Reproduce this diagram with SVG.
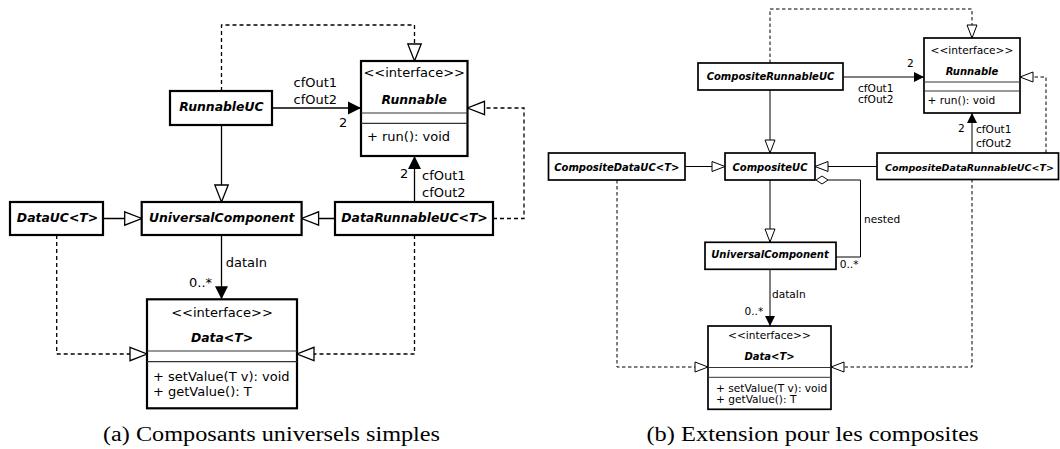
<svg xmlns="http://www.w3.org/2000/svg" width="1060" height="449" viewBox="0 0 1060 449">
<style>
.bg{fill:#fff}
.boxL{fill:#fff;stroke:#000;stroke-width:2.2}
.boxR{fill:#fff;stroke:#000;stroke-width:1.7}
.sepL{stroke:#333;stroke-width:1.2;fill:none}
.sepR{stroke:#333;stroke-width:1;fill:none}
text{font-family:"DejaVu Sans","Liberation Sans",sans-serif;fill:#000}
.tL{font-size:13px}
.nL{font-size:12.4px;font-weight:bold;font-style:italic}
.tR{font-size:10.6px}
.nR{font-size:10px;font-weight:bold;font-style:italic}
.m{text-anchor:middle}
.cap{font-family:"Liberation Serif","Times New Roman",serif;font-size:20px}
.cL{fill:none;stroke:#000;stroke-width:1.3}
.cR{fill:none;stroke:#000;stroke-width:1}
.dL{stroke-dasharray:4,3}
.dR{stroke-dasharray:3.5,2.5}
</style>
<defs>
<marker id="hL" markerUnits="userSpaceOnUse" orient="auto" refX="17" refY="0" markerWidth="20" markerHeight="16" overflow="visible"><path d="M0,-6.7 L17,0 L0,6.7 Z" fill="#fff" stroke="#000" stroke-width="1.3"/></marker>
<marker id="fL" markerUnits="userSpaceOnUse" orient="auto" refX="13" refY="0" markerWidth="15" markerHeight="15" overflow="visible"><path d="M0,-6.5 L13,0 L0,6.5 Z" fill="#000"/></marker>
<marker id="hR" markerUnits="userSpaceOnUse" orient="auto" refX="13" refY="0" markerWidth="15" markerHeight="12" overflow="visible"><path d="M0,-5 L13,0 L0,5 Z" fill="#fff" stroke="#000" stroke-width="1"/></marker>
<marker id="fR" markerUnits="userSpaceOnUse" orient="auto" refX="10" refY="0" markerWidth="12" markerHeight="12" overflow="visible"><path d="M0,-5 L10,0 L0,5 Z" fill="#000"/></marker>
</defs>
<rect class="bg" x="0" y="0" width="1060" height="449"/>

<g id="connectors">
<!-- left diagram -->
<path class="cL dL" d="M221.5,91 V25 H414.5 V61" marker-end="url(#hL)"/>
<path class="cL" d="M272,108 H361" marker-end="url(#fL)"/>
<path class="cL" d="M221.5,125 V202" marker-end="url(#hL)"/>
<path class="cL" d="M103,218.5 H141.7" marker-end="url(#hL)"/>
<path class="cL" d="M335,218.5 H301.6" marker-end="url(#hL)"/>
<path class="cL" d="M414.5,202 V156" marker-end="url(#fL)"/>
<path class="cL dL" d="M493,218.5 H524 V108 H467.5" marker-end="url(#hL)"/>
<path class="cL" d="M221.5,235 V299.3" marker-end="url(#fL)"/>
<path class="cL dL" d="M56.7,235 V354 H147" marker-end="url(#hL)"/>
<path class="cL dL" d="M414.5,235 V354 H297" marker-end="url(#hL)"/>
<!-- right diagram -->
<path class="cR dR" d="M770,63 V9 H972 V38" marker-end="url(#hR)"/>
<path class="cR" d="M843,77 H924" marker-end="url(#fR)"/>
<path class="cR" d="M770,90 V153" marker-end="url(#hR)"/>
<path class="cR" d="M685,166.5 H725" marker-end="url(#hR)"/>
<path class="cR" d="M877,166.5 H815" marker-end="url(#hR)"/>
<path class="cR" d="M972,153 V113" marker-end="url(#fR)"/>
<path class="cR dR" d="M1046,153 V77 H1020" marker-end="url(#hR)"/>
<path class="cR" d="M828,180 H860.5 V257 H836"/>
<path d="M816,180 L822,176 L828,180 L822,184 Z" fill="#fff" stroke="#000" stroke-width="1"/>
<path class="cR" d="M770,180 V242" marker-end="url(#hR)"/>
<path class="cR" d="M770,269 V326" marker-end="url(#fR)"/>
<path class="cR dR" d="M617,180 V367 H708" marker-end="url(#hR)"/>
<path class="cR dR" d="M972,179 V367 H831" marker-end="url(#hR)"/>
</g>

<g id="labels">
<text class="tL" x="293.5" y="87">cfOut1</text>
<text class="tL" x="293.5" y="104">cfOut2</text>
<text class="tL" x="339" y="127">2</text>
<text class="tL" x="400" y="178">2</text>
<text class="tL" x="422" y="180">cfOut1</text>
<text class="tL" x="422" y="196.5">cfOut2</text>
<text class="tL" x="225.7" y="267">dataIn</text>
<text class="tL" x="189" y="287">0..*</text>
<text class="tR" x="907" y="67">2</text>
<text class="tR" x="858" y="91.5">cfOut1</text>
<text class="tR" x="858" y="103">cfOut2</text>
<text class="tR" x="958" y="132">2</text>
<text class="tR" x="976" y="133">cfOut1</text>
<text class="tR" x="976" y="146.5">cfOut2</text>
<text class="tR" x="864" y="223">nested</text>
<text class="tR" x="839.7" y="268">0..*</text>
<text class="tR" x="772" y="297.5">dataIn</text>
<text class="tR" x="744.5" y="315">0..*</text>
</g>

<!-- left nodes -->
<g id="L-Runnable">
<rect class="boxL" x="361" y="61" width="106.5" height="95"/>
<line class="sepL" x1="361" y1="113" x2="467.5" y2="113"/>
<line class="sepL" x1="361" y1="123.3" x2="467.5" y2="123.3"/>
<text class="tL m" x="414.2" y="77">&lt;&lt;interface&gt;&gt;</text>
<text class="nL m" x="414.2" y="104">Runnable</text>
<text class="tL" x="367" y="141">+ run(): void</text>
</g>
<g id="L-RunnableUC">
<rect class="boxL" x="170" y="91" width="102" height="34"/>
<text class="nL m" x="221.5" y="110.5">RunnableUC</text>
</g>
<g id="L-DataUC">
<rect class="boxL" x="10" y="202" width="93" height="33"/>
<text class="nL m" x="57.5" y="221.5">DataUC&lt;T&gt;</text>
</g>
<g id="L-UniversalComponent">
<rect class="boxL" x="141.7" y="202" width="159.9" height="33"/>
<text class="nL m" x="221.7" y="221.5">UniversalComponent</text>
</g>
<g id="L-DataRunnableUC">
<rect class="boxL" x="335" y="202" width="158" height="33"/>
<text class="nL m" x="414.5" y="221.5">DataRunnableUC&lt;T&gt;</text>
</g>
<g id="L-Data">
<rect class="boxL" x="147" y="299.3" width="150" height="109"/>
<line class="sepL" x1="147" y1="351" x2="297" y2="351"/>
<line class="sepL" x1="147" y1="361.7" x2="297" y2="361.7"/>
<text class="tL m" x="222" y="316.7">&lt;&lt;interface&gt;&gt;</text>
<text class="nL m" x="222" y="341.7">Data&lt;T&gt;</text>
<text class="tL" x="153" y="380.7">+ setValue(T v): void</text>
<text class="tL" x="153" y="395.5">+ getValue(): T</text>
</g>

<!-- right nodes -->
<g id="R-Runnable">
<rect class="boxR" x="924" y="38" width="96" height="75"/>
<line class="sepR" x1="924" y1="82" x2="1020" y2="82"/>
<line class="sepR" x1="924" y1="91" x2="1020" y2="91"/>
<text class="tR m" x="972" y="54">&lt;&lt;interface&gt;&gt;</text>
<text class="nR m" x="972" y="74.5">Runnable</text>
<text class="tR" x="927.5" y="104">+ run(): void</text>
</g>
<g id="R-CompositeRunnableUC">
<rect class="boxR" x="698" y="63" width="145" height="27"/>
<text class="nR m" x="770.5" y="80">CompositeRunnableUC</text>
</g>
<g id="R-CompositeDataUC">
<rect class="boxR" x="548.5" y="153" width="136.5" height="27"/>
<text class="nR m" x="616.8" y="171">CompositeDataUC&lt;T&gt;</text>
</g>
<g id="R-CompositeUC">
<rect class="boxR" x="725" y="153" width="90" height="27"/>
<text class="nR m" x="770" y="171">CompositeUC</text>
</g>
<g id="R-CompositeDataRunnableUC">
<rect class="boxR" x="877" y="153" width="181.5" height="26.5"/>
<text class="nR" x="885" y="171" style="font-size:9.5px">CompositeDataRunnableUC&lt;T&gt;</text>
</g>
<g id="R-UniversalComponent">
<rect class="boxR" x="705" y="242.3" width="131" height="27"/>
<text class="nR m" x="770" y="258.3">UniversalComponent</text>
</g>
<g id="R-Data">
<rect class="boxR" x="708" y="326" width="123" height="83.3"/>
<line class="sepR" x1="708" y1="367.5" x2="831" y2="367.5"/>
<line class="sepR" x1="708" y1="377.3" x2="831" y2="377.3"/>
<text class="tR m" x="769.5" y="338.5">&lt;&lt;interface&gt;&gt;</text>
<text class="nR m" x="769.5" y="360">Data&lt;T&gt;</text>
<text class="tR" x="716" y="391.5">+ setValue(T v): void</text>
<text class="tR" x="716" y="403">+ getValue(): T</text>
</g>

<g id="captions">
<text class="cap" x="103" y="441" textLength="337" lengthAdjust="spacingAndGlyphs">(a) Composants universels simples</text>
<text class="cap" x="646.5" y="441" textLength="332" lengthAdjust="spacingAndGlyphs">(b) Extension pour les composites</text>
</g>
</svg>
